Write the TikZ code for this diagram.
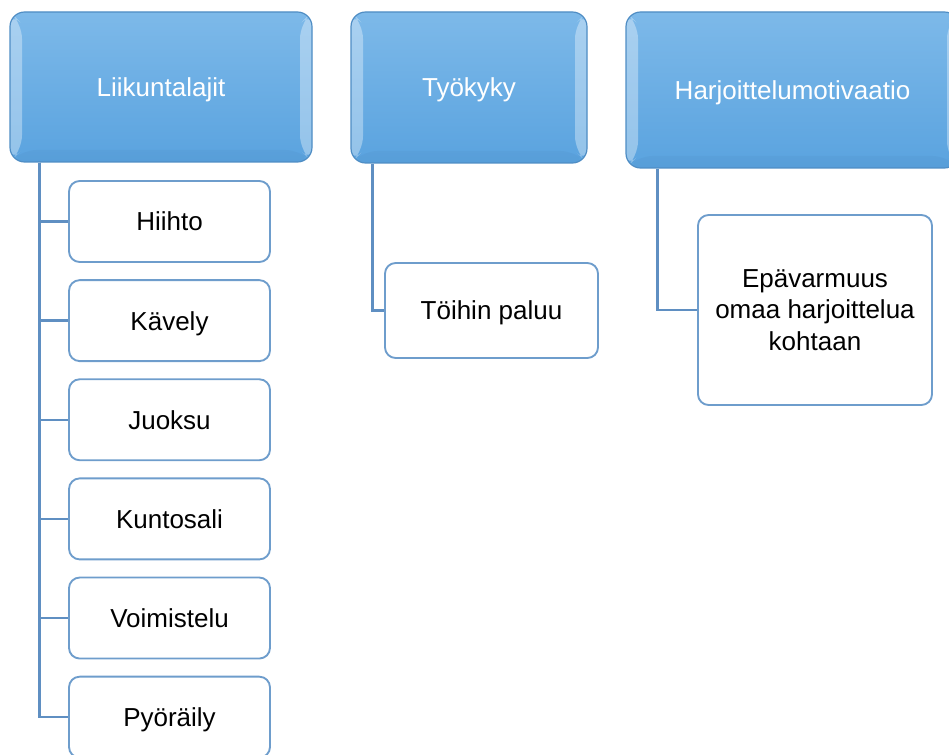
\documentclass[tikz,border=0pt]{standalone}
\usepackage{fontspec}
\setmainfont{Liberation Sans}
\usetikzlibrary{positioning}

\definecolor{headtop}{HTML}{7DB9E9}
\definecolor{headbot}{HTML}{5AA3DF}
\definecolor{headedge}{HTML}{4F8DC4}
\definecolor{leafedge}{HTML}{6E9DCC}
\definecolor{linkblue}{HTML}{5F8FC2}

\begin{document}
\begin{tikzpicture}[x=0.75pt, y=-0.75pt,
    head/.style={rectangle,
        rounded corners=11pt,
        draw=headedge, % Header edge colour.
        line width=0.9pt,
        top color=headtop, % Header shading.
        bottom color=headbot,
        text=white,
        inner sep=0pt,
        text depth=0pt,
        font=\fontsize{19.5}{23.4}\selectfont,
        path picture={
            \fill[white, opacity=0.35] (path picture bounding box.north west)
                -- ([shift={(9pt,-9pt)}]path picture bounding box.north west)
                -- ([shift={(9pt,9pt)}]path picture bounding box.south west)
                -- (path picture bounding box.south west) -- cycle;
            \fill[white, opacity=0.35] (path picture bounding box.north east)
                -- ([shift={(-9pt,-9pt)}]path picture bounding box.north east)
                -- ([shift={(-9pt,9pt)}]path picture bounding box.south east)
                -- (path picture bounding box.south east) -- cycle;
            \fill[headedge, opacity=0.2] (path picture bounding box.south west)
                -- ([shift={(9pt,9pt)}]path picture bounding box.south west)
                -- ([shift={(-9pt,9pt)}]path picture bounding box.south east)
                -- (path picture bounding box.south east) -- cycle;}},
    leaf/.style={rectangle,
        rounded corners=8pt,
        draw=leafedge, % Leaf edge colour.
        line width=1.4pt,
        fill=white,
        inner sep=0pt,
        text depth=0pt,
        align=center,
        font=\fontsize{19.5}{23.4}\selectfont},
    link/.style={draw=linkblue, line width=1.8pt}]

        \useasboundingbox (0,0) rectangle (949,755);

        % Header nodes.
        \node[head, minimum width=226.5pt, minimum height=112.5pt] (liik) at (161,87) {Liikuntalajit};
        \node[head, minimum width=177pt, minimum height=113.25pt] (tyo) at (469,87.5) {Työkyky};
        \node[head, minimum width=249.75pt, minimum height=117pt] (harj) at (792.5,90) {Harjoittelumotivaatio};

        % Leaf nodes.
        \node[leaf, minimum width=150.75pt, minimum height=60.75pt] (hiihto) at (169.5,221.5) {Hiihto};
        \node[leaf, minimum width=150.75pt, minimum height=60.75pt, below=12.2pt of hiihto] (kavely) {Kävely};
        \node[leaf, minimum width=150.75pt, minimum height=60.75pt, below=12.2pt of kavely] (juoksu) {Juoksu};
        \node[leaf, minimum width=150.75pt, minimum height=60.75pt, below=12.2pt of juoksu] (kunto) {Kuntosali};
        \node[leaf, minimum width=150.75pt, minimum height=60.75pt, below=12.2pt of kunto] (voim) {Voimistelu};
        \node[leaf, minimum width=150.75pt, minimum height=60.75pt, below=12.2pt of voim] (pyor) {Pyöräily};
        \node[leaf, minimum width=159.75pt, minimum height=71.25pt] (paluu) at (491.5,310.5) {Töihin paluu};
        \node[leaf, minimum width=175.5pt, minimum height=142.5pt] (epav) at (815,310) {Epävarmuus\\omaa harjoittelua\\kohtaan};

        % Links.
        \foreach \c in {hiihto, kavely, juoksu, kunto, voim, pyor}
        \draw[link] ([xshift=22.5pt]liik.south west) |- (\c.west);
        \draw[link] ([xshift=16.5pt]tyo.south west) |- (paluu.west);
        \draw[link] ([xshift=24pt]harj.south west) |- (epav.west);
    \end{tikzpicture}
\end{document}
